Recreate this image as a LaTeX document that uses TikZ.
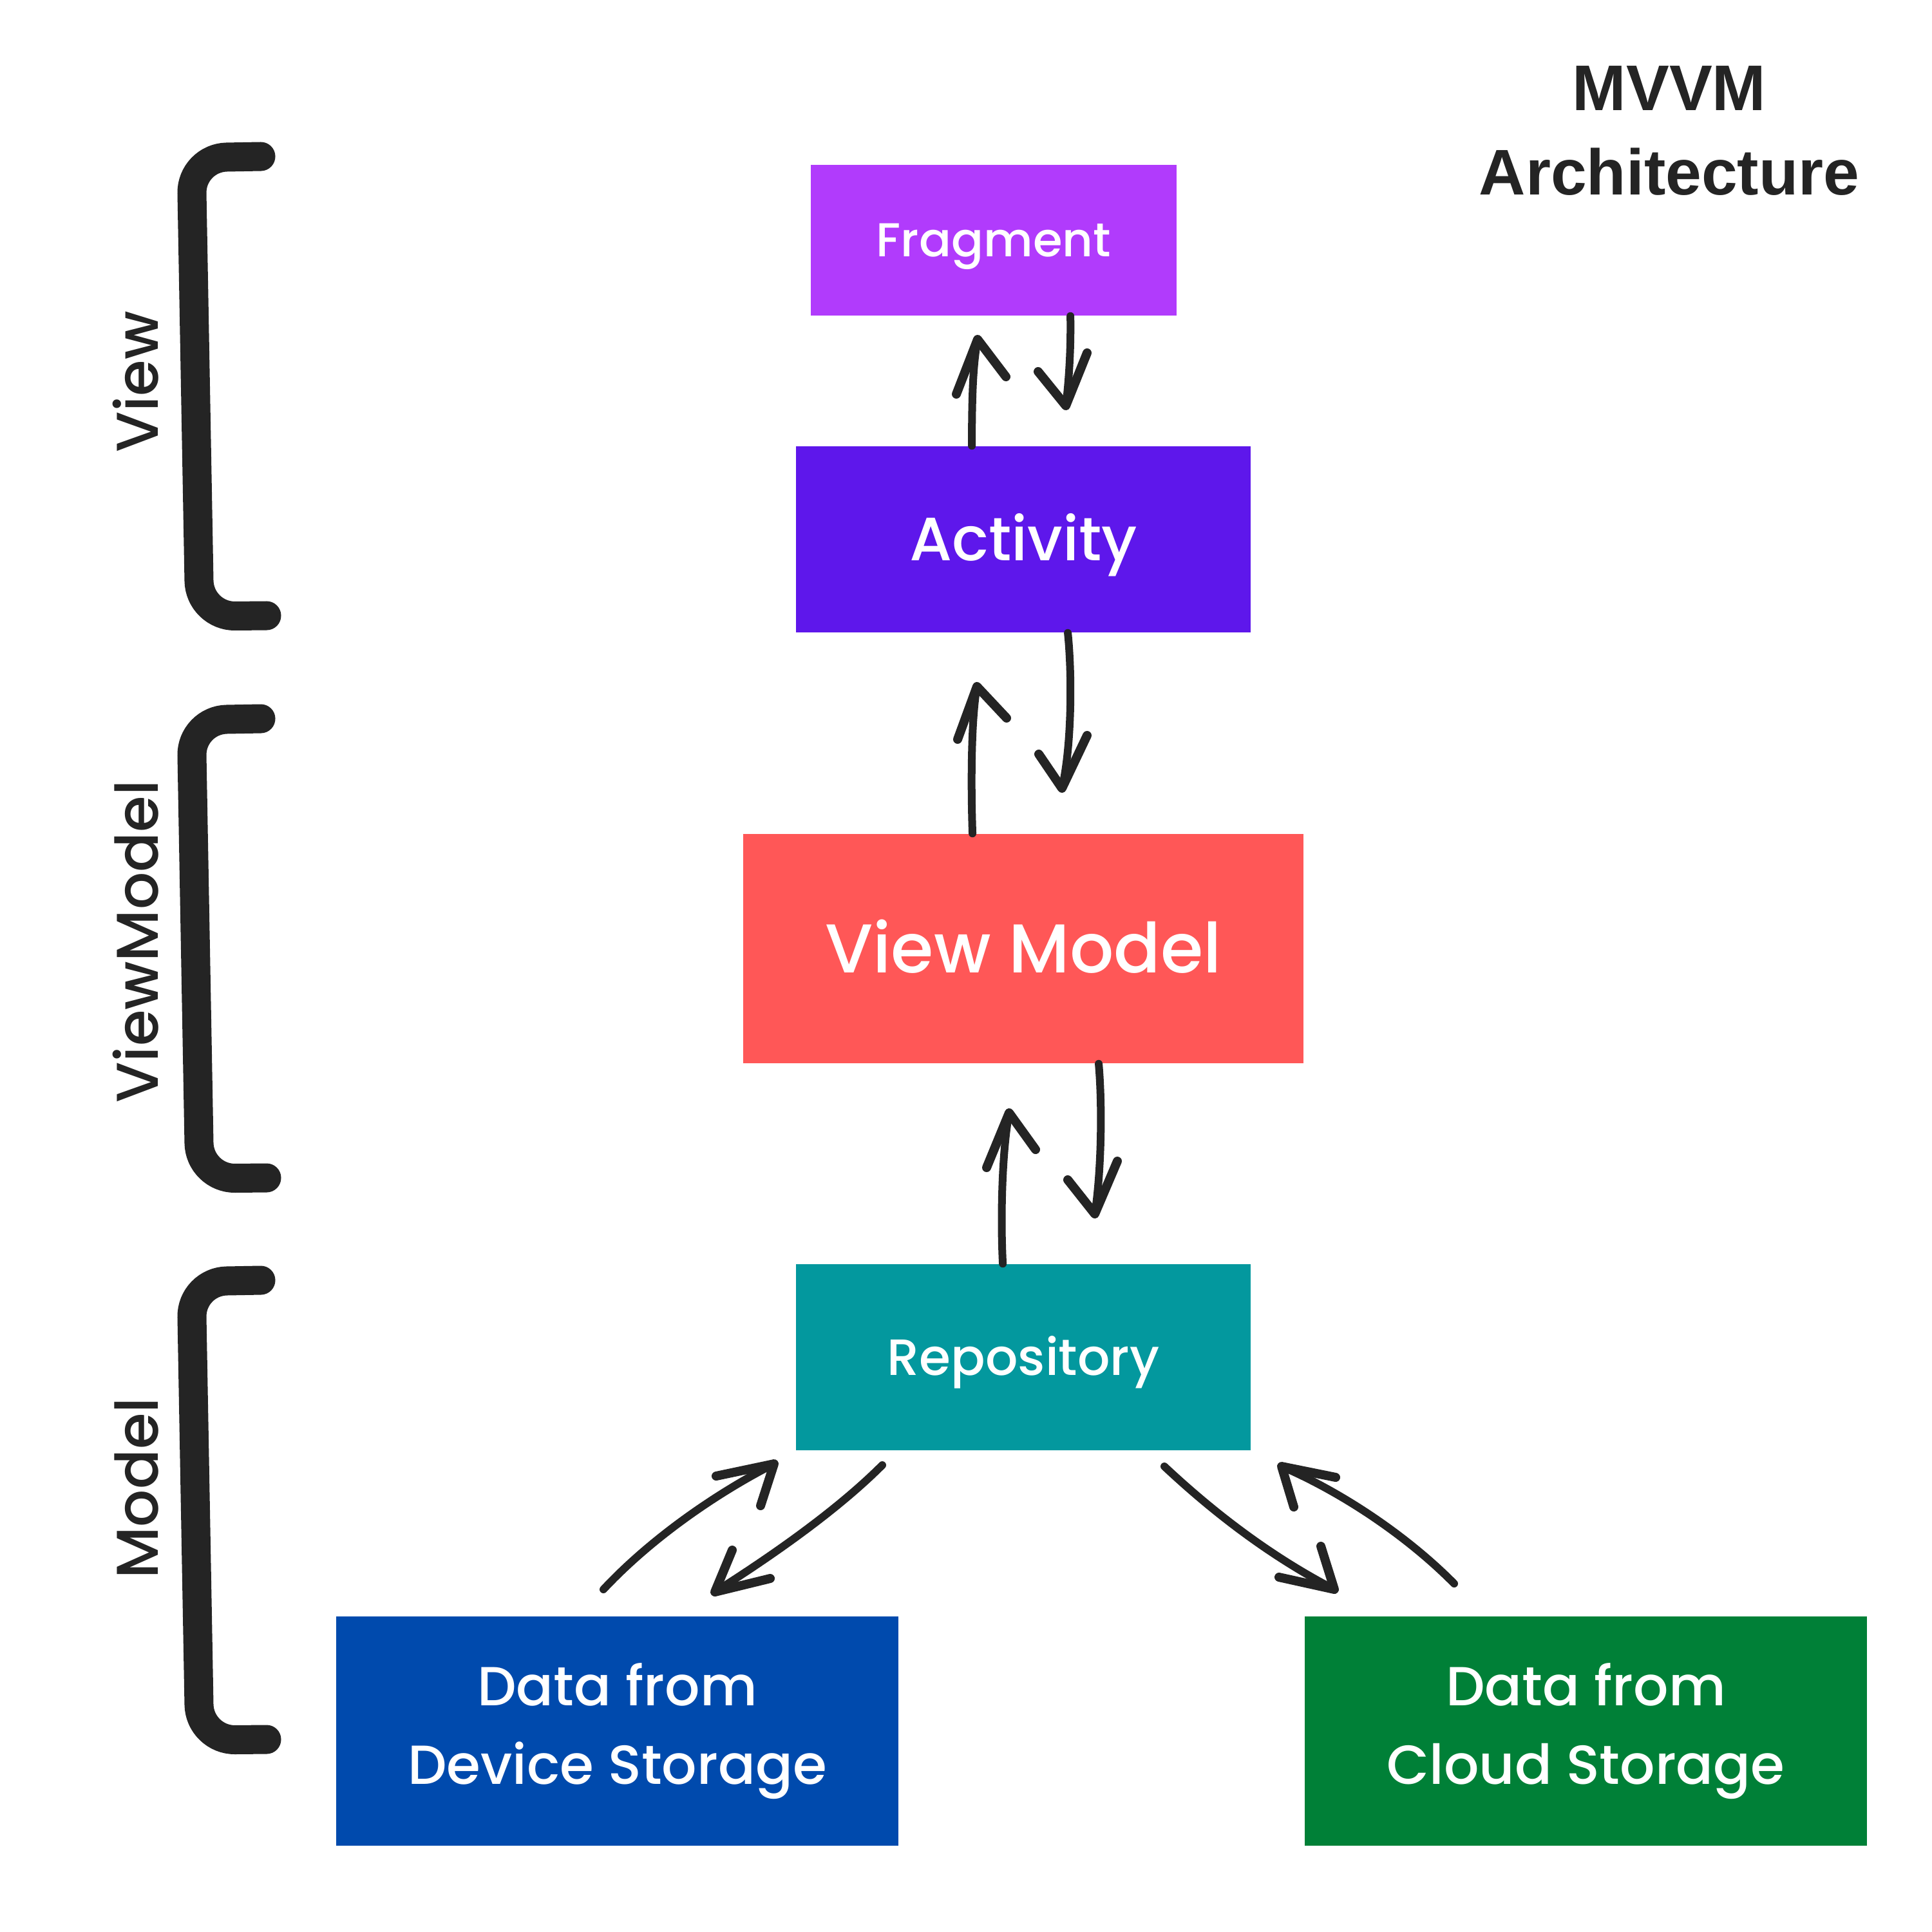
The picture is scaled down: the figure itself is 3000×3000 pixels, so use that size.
\documentclass[tikz,border=0pt]{standalone}
\usepackage{fontspec}
\setmainfont{Poppins Medium}
\newfontfamily\titlefont{Liberation Sans}
\usetikzlibrary{calc}
\definecolor{ink}{HTML}{242424}
\definecolor{fragc}{HTML}{B13BFC}
\definecolor{actc}{HTML}{5E17EB}
\definecolor{vmc}{HTML}{FF5757}
\definecolor{repc}{HTML}{03989E}
\definecolor{devc}{HTML}{004AAD}
\definecolor{cldc}{HTML}{008037}
\begin{document}
\begin{tikzpicture}[x=0.01cm,y=-0.01cm,
  box/.style={rectangle, inner sep=0pt, text=white},
  onebox/.style={box, text depth=0pt},
  twobox/.style={box, align=center},
  brk/.style={draw=ink, line width=4.5mm, line cap=round, line join=round, rounded corners=5.5mm},
  shaft/.style={draw=ink, line width=1.2mm, line cap=round},
  barb/.style={draw=ink, line width=1.4mm, line cap=round, line join=round},
  side/.style={rotate=90, anchor=base, text=ink, font=\fontsize{26}{30}\selectfont},
  ttl/.style={anchor=base, text=ink, font=\titlefont\bfseries\fontsize{28.5}{34}\selectfont}]
\useasboundingbox[fill=white] (0,0) rectangle (3000,3000);

% boxes
\node[onebox, text height=14.7pt, fill=fragc, minimum width=5.68cm, minimum height=2.34cm, font=\fontsize{21}{25}\selectfont] (frag) at (1543,373) {Fragment};
\node[onebox, text height=18.9pt, fill=actc, minimum width=7.06cm, minimum height=2.89cm, font=\fontsize{27}{32}\selectfont] (act) at (1589,837.5) {Activity};
\node[onebox, text height=21.3pt, fill=vmc, minimum width=8.70cm, minimum height=3.56cm, font=\fontsize{30.5}{34}\selectfont] (vm) at (1589,1473) {View Model};
\node[onebox, text height=15.7pt, fill=repc, minimum width=7.06cm, minimum height=2.89cm, font=\fontsize{22.5}{26}\selectfont] (rep) at (1589,2107.5) {Repository};
\node[twobox, fill=devc, minimum width=8.73cm, minimum height=3.56cm, font=\fontsize{24.3}{34.5}\selectfont] (dev) at (958.5,2688) {Data from\\Device Storage};
\node[twobox, fill=cldc, minimum width=8.73cm, minimum height=3.56cm, font=\fontsize{24.3}{34.5}\selectfont] (cld) at (2462.5,2688) {Data from\\Cloud Storage};

% title
\node[ttl] (t1) at (2592,172) {MVVM};
\node[ttl] (t2) at (2592,302) {Architecture};

% side labels
\node[side] (lview) at (245,593) {View};
\node[side] (lvm) at (245,1462) {ViewModel};
\node[side] (lmod) at (245,2311) {Model};

% brackets
\draw[brk] (405,243) -- (297,245) -- (310,957) -- (414,956);
\draw[brk] (405,1116) -- (297,1118) -- (310,1830) -- (414,1829);
\draw[brk] (405,1988) -- (297,1990) -- (310,2702) -- (414,2701);

% arrow points
\coordinate (a1s) at ($(act.north west)+(274,0)$);
\coordinate (a1t) at (1518,527);
\coordinate (a2s) at ($(frag.south west)+(404,0)$);
\coordinate (a2t) at (1655,630);
\coordinate (a3s) at ($(vm.north west)+(357,0)$);
\coordinate (a3t) at (1517,1066);
\coordinate (a4s) at ($(act.south west)+(423,0)$);
\coordinate (a4t) at (1649,1224);
\coordinate (a5s) at ($(rep.north west)+(322,0)$);
\coordinate (a5t) at (1567,1728);
\coordinate (a6s) at ($(vm.south west)+(553,0)$);
\coordinate (a6t) at (1700,1885);
\coordinate (a7s) at (937,2468);
\coordinate (a7t) at (1202,2273);
\coordinate (a8s) at (1370,2275);
\coordinate (a8t) at (1110,2472);
\coordinate (a9s) at (1808,2277);
\coordinate (a9t) at (2072,2468);
\coordinate (a10s) at (2258,2459);
\coordinate (a10t) at (1990,2277);

% Activity -> Fragment
\draw[shaft] (a1s) .. controls (1509,600) and (1512,560) .. (a1t);
\draw[barb] (1485,612) -- (a1t) -- (1562,585);
% Fragment -> Activity
\draw[shaft] (a2s) .. controls (1663,540) and (1660,590) .. (a2t);
\draw[barb] (1612,577) -- (a2t) -- (1688,548);
% View Model -> Activity
\draw[shaft] (a3s) .. controls (1507,1200) and (1509,1110) .. (a3t);
\draw[barb] (1487,1148) -- (a3t) -- (1563,1115);
% Activity -> View Model
\draw[shaft] (a4s) .. controls (1665,1050) and (1664,1160) .. (a4t);
\draw[barb] (1613,1171) -- (a4t) -- (1688,1142);
% Repository -> View Model
\draw[shaft] (a5s) .. controls (1553,1880) and (1557,1780) .. (a5t);
\draw[barb] (1532,1813) -- (a5t) -- (1608,1785);
% View Model -> Repository
\draw[shaft] (a6s) .. controls (1712,1720) and (1710,1820) .. (a6t);
\draw[barb] (1658,1832) -- (a6t) -- (1735,1803);
% Device -> Repository
\draw[shaft] (a7s) .. controls (1010,2390) and (1110,2320) .. (a7t);
\draw[barb] (1112,2292) -- (a7t) -- (1181,2338);
% Repository -> Device
\draw[shaft] (a8s) .. controls (1300,2345) and (1200,2415) .. (a8t);
\draw[barb] (1196,2451) -- (a8t) -- (1137,2407);
% Repository -> Cloud
\draw[shaft] (a9s) .. controls (1870,2335) and (1960,2410) .. (a9t);
\draw[barb] (1986,2449) -- (a9t) -- (2051,2401);
% Cloud -> Repository
\draw[shaft] (a10s) .. controls (2190,2390) and (2090,2320) .. (a10t);
\draw[barb] (2074,2294) -- (a10t) -- (2009,2340);
\end{tikzpicture}
\end{document}
